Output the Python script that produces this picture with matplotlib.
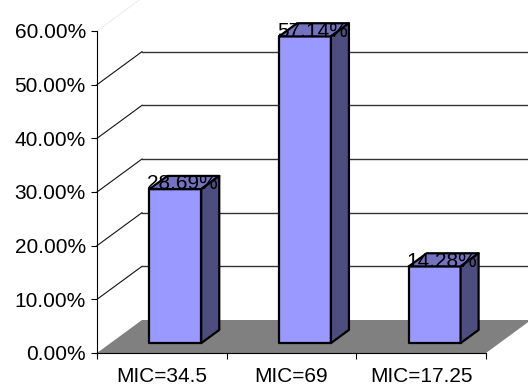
import matplotlib
matplotlib.use("Agg")
import matplotlib.pyplot as plt
from matplotlib.patches import Polygon
from matplotlib.lines import Line2D
from matplotlib.transforms import IdentityTransform
import numpy as np

categories = ["MIC=34.5", "MIC=69", "MIC=17.25"]
values = [0.2869, 0.5714, 0.1428]
value_labels = ["28.69%", "57.14%", "14.28%"]
yticks = [0.0, 0.1, 0.2, 0.3, 0.4, 0.5, 0.6]
ytick_labels = ["0.00%", "10.00%", "20.00%", "30.00%", "40.00%", "50.00%", "60.00%"]

plt.rcParams['font.family'] = ['Liberation Sans', 'DejaVu Sans']
FS = 15

W, H, DPI = 528, 385, 100
fig = plt.figure(figsize=(W / DPI, H / DPI), dpi=DPI)
fig.patch.set_facecolor("white")
ax = fig.add_axes([97 / W, (H - 353) / H, (486 - 97) / W, (353 - 31) / H])
ax.set_xlim(0, len(categories))
ax.set_ylim(0, 0.6)
ax.patch.set_alpha(0)

DX, DY = 45.0, 33.0  # full depth offset in pixels
BAR_W = 0.40
D_FRONT, D_BACK = 0.30, 0.70


def proj(x, y, d):
    px, py = ax.transData.transform((x, y))
    return (px + d * DX, py + d * DY)


def poly(pts, **kw):
    p = Polygon(pts, closed=True, transform=IdentityTransform(), clip_on=False, **kw)
    ax.add_artist(p)
    return p


def line(p0, p1, **kw):
    l = Line2D([p0[0], p1[0]], [p0[1], p1[1]], transform=IdentityTransform(), clip_on=False, **kw)
    ax.add_artist(l)


n = len(categories)
# floor
poly([proj(0, 0, 0), proj(n, 0, 0), proj(n, 0, 1), proj(0, 0, 1)],
     facecolor="#808080", edgecolor="none", zorder=1)

# back wall gridlines and side diagonals
for v in yticks[1:]:
    col = "#111111" if v < 0.6 else "#eeeeee"
    line(proj(0, v, 0), proj(0, v, 1), color=col, lw=0.8, zorder=1.5)
    line(proj(0, v, 1), proj(n, v, 1), color="#333333" if v < 0.6 else "#eeeeee", lw=1.0, zorder=1.5)

# bars
for i, v in enumerate(values):
    x0 = i + (1 - BAR_W) / 2
    x1 = x0 + BAR_W
    kw = dict(edgecolor="black", lw=1.6, joinstyle="round", zorder=3)
    poly([proj(x0, 0, D_FRONT), proj(x1, 0, D_FRONT), proj(x1, v, D_FRONT), proj(x0, v, D_FRONT)],
         facecolor="#9999FF", **kw)
    poly([proj(x0, v, D_FRONT), proj(x1, v, D_FRONT), proj(x1, v, D_BACK), proj(x0, v, D_BACK)],
         facecolor="#7373BF", **kw)
    poly([proj(x1, 0, D_FRONT), proj(x1, 0, D_BACK), proj(x1, v, D_BACK), proj(x1, v, D_FRONT)],
         facecolor="#4D4D80", **kw)
    lx, ly = proj(i + 0.5, v, 0.46)
    ax.text(lx, ly, value_labels[i], transform=IdentityTransform(), ha="center", va="center",
            fontsize=FS, color="black", zorder=5, clip_on=False)

# axes styling
for s in ["top", "right"]:
    ax.spines[s].set_visible(False)
for s in ["left", "bottom"]:
    ax.spines[s].set_color("black")
    ax.spines[s].set_linewidth(0.8)
    ax.spines[s].set_zorder(2)

ax.set_yticks(yticks)
ax.set_yticklabels(ytick_labels, fontsize=FS)
ax.tick_params(axis="y", direction="out", length=4, width=0.8, pad=4)

ax.set_xticks(np.arange(n + 1))
ax.set_xticklabels([])
ax.set_xticks(np.arange(n) + 0.5, minor=True)
ax.set_xticklabels(categories, minor=True, fontsize=FS)
ax.tick_params(axis="x", which="major", direction="out", length=4, width=0.8)
ax.tick_params(axis="x", which="minor", length=0, pad=10)

fig.savefig("out.png", dpi=DPI)
